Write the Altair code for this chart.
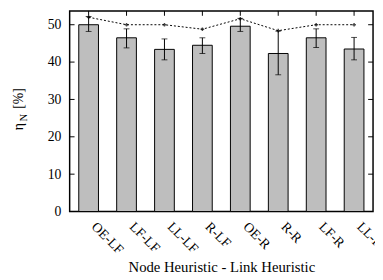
import altair as alt
import pandas as pd

cats = ["OE-LF", "LF-LF", "LL-LF", "R-LF", "OE-R", "R-R", "LF-R", "LL-R"]
means = [50.0, 46.5, 43.4, 44.5, 49.6, 42.3, 46.5, 43.5]
err_lo = [48.2, 43.8, 40.6, 42.3, 48.2, 36.6, 43.9, 40.6]
err_hi = [52.2, 48.9, 46.2, 46.5, 51.7, 48.3, 48.9, 46.6]
upper = [52.0, 50.0, 50.0, 48.8, 51.6, 48.4, 50.0, 50.0]
y_ticks = [0, 10, 20, 30, 40, 50]

W, H = 310, 205
FONT = "Liberation Serif"

df = pd.DataFrame({"cat": cats, "mean": means, "lo": err_lo, "hi": err_hi, "up": upper})
tdf = pd.DataFrame({"v": y_ticks})

xs = alt.Scale(domain=cats, paddingInner=0.48, paddingOuter=0.24)
ys = alt.Scale(domain=[0, 53.7], nice=False)

x_enc = alt.X("cat:N", scale=xs, sort=cats,
              axis=alt.Axis(title="Node Heuristic - Link Heuristic", labelAngle=45,
                            labelAlign="left", labelBaseline="top", labelPadding=8,
                            labelOffset=10, labelFontSize=14, labelFlush=False,
                            labelOverlap=False, labelBound=False,
                            tickSize=0, domain=False, titlePadding=3))
y_enc = alt.Y("mean:Q", scale=ys,
              axis=alt.Axis(title=None, values=y_ticks, tickSize=0, domain=False,
                            labelPadding=9, grid=False))

bars = alt.Chart(df).mark_bar(color="#bebebe", stroke="#000000", strokeWidth=1).encode(
    x=x_enc, y=y_enc)

err = alt.Chart(df).mark_rule(color="#000000", strokeWidth=1).encode(
    x=alt.X("cat:N", scale=xs, sort=cats), y=alt.Y("lo:Q", scale=ys), y2="hi:Q")
cap_lo = alt.Chart(df).mark_tick(color="#000000", thickness=1, size=6).encode(
    x=alt.X("cat:N", scale=xs, sort=cats), y=alt.Y("lo:Q", scale=ys))
cap_hi = alt.Chart(df).mark_tick(color="#000000", thickness=1, size=6).encode(
    x=alt.X("cat:N", scale=xs, sort=cats), y=alt.Y("hi:Q", scale=ys))

line = alt.Chart(df).mark_line(color="#000000", strokeWidth=1, strokeDash=[2, 2]).encode(
    x=alt.X("cat:N", scale=xs, sort=cats), y=alt.Y("up:Q", scale=ys))
pts = alt.Chart(df).mark_point(shape="cross", filled=True, color="#000000", size=14).encode(
    x=alt.X("cat:N", scale=xs, sort=cats), y=alt.Y("up:Q", scale=ys))

lt = alt.Chart(tdf).mark_rule(color="#000000", strokeWidth=1).encode(
    y=alt.Y("v:Q", scale=ys), x=alt.value(0), x2=alt.value(5))
rt = alt.Chart(tdf).mark_rule(color="#000000", strokeWidth=1).encode(
    y=alt.Y("v:Q", scale=ys), x=alt.value(W - 5), x2=alt.value(W))
tt = alt.Chart(df).mark_rule(color="#000000", strokeWidth=1).encode(
    x=alt.X("cat:N", scale=xs, sort=cats), y=alt.value(0), y2=alt.value(5))

t1 = alt.Chart(df.head(1)).mark_text(text="η", font=FONT, fontSize=14, angle=270,
                                     align="left", baseline="alphabetic").encode(
    x=alt.value(-48), y=alt.value(122))
t2 = alt.Chart(df.head(1)).mark_text(text="N", font=FONT, fontSize=11, angle=270,
                                     align="left", baseline="alphabetic").encode(
    x=alt.value(-44), y=alt.value(113))
t3 = alt.Chart(df.head(1)).mark_text(text="[%]", font=FONT, fontSize=14, angle=270,
                                     align="left", baseline="alphabetic").encode(
    x=alt.value(-48), y=alt.value(100))

chart = alt.layer(bars, err, cap_lo, cap_hi, line, pts, lt, rt, tt, t1, t2, t3).properties(
    width=W, height=H,
    autosize=alt.AutoSizeParams(type="none"),
    padding={"left": 63, "top": 0, "right": 2, "bottom": 67}
).configure_view(stroke="#000000", strokeWidth=1.5).configure_axis(
    labelFont=FONT, labelFontSize=14, labelColor="#000000",
    titleFont=FONT, titleFontSize=15, titleColor="#000000", titleFontWeight="normal"
)

chart.save("out.html", embed_options={"renderer": "svg", "actions": False})
